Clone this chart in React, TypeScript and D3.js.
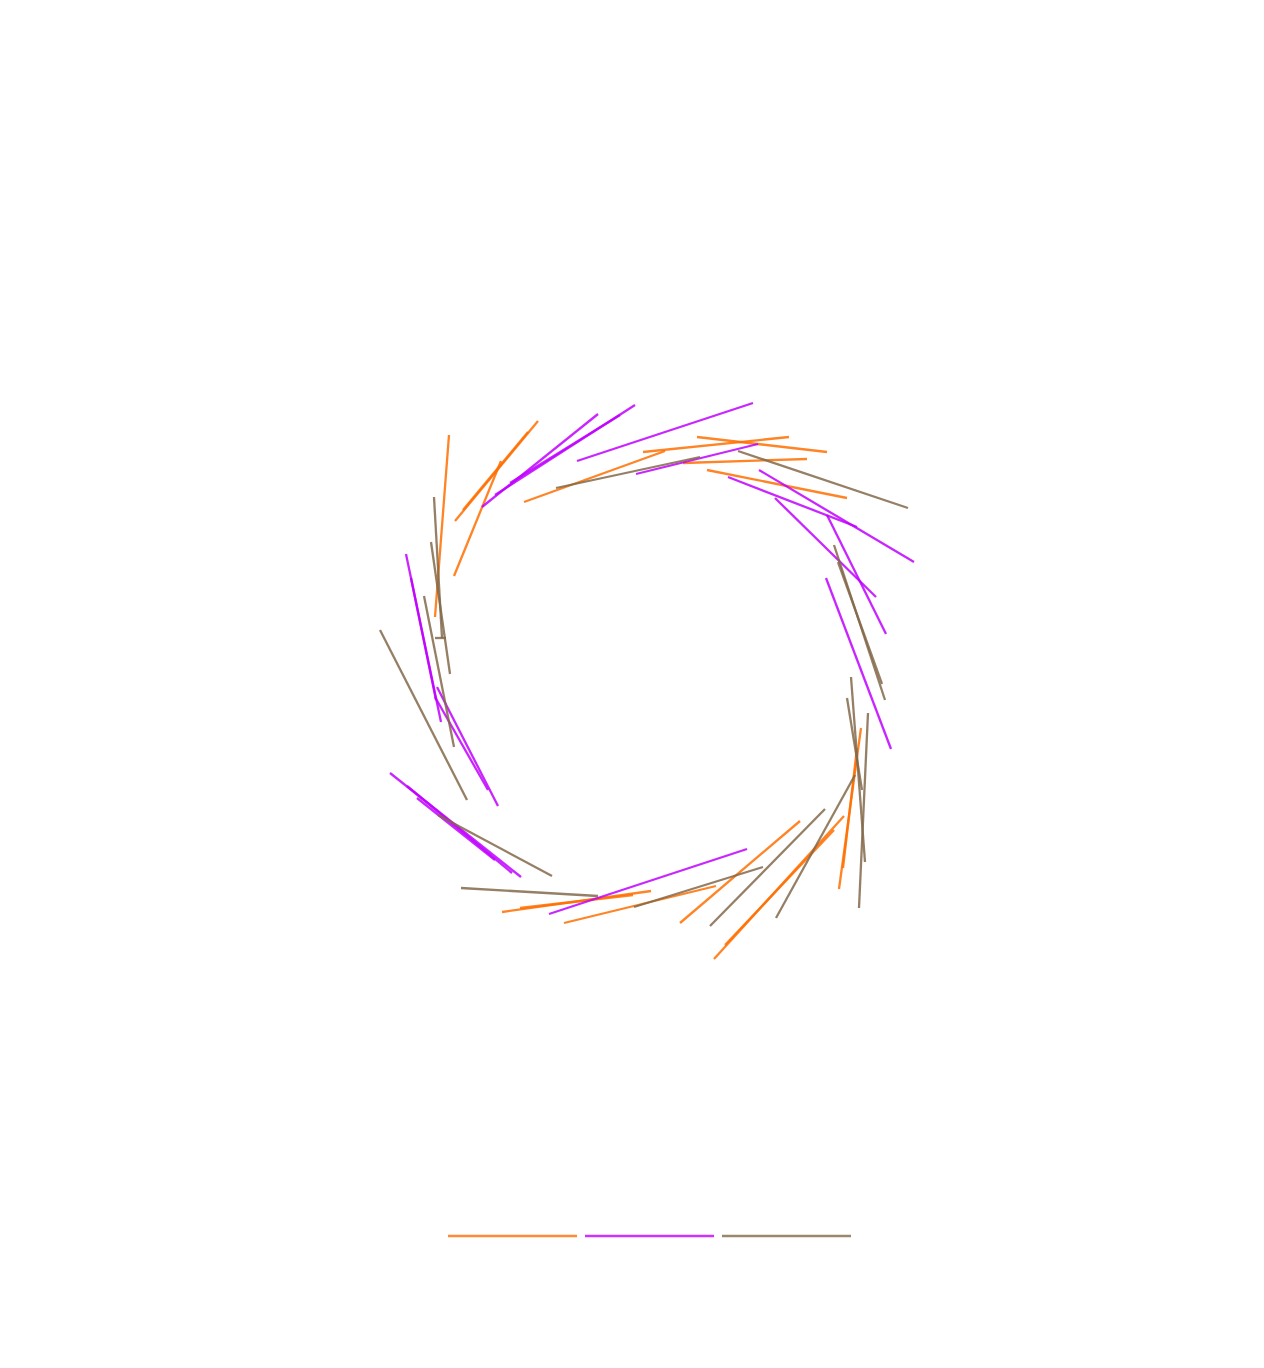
import * as d3 from 'd3'

// each segment: [x1, y1, x2, y2], center of the ring is 0,0, y points up
type Seg = [number, number, number, number]

const seriesNames = ['A', 'B', 'C']

const seriesA: Seg[] = [
  [-196, 245, -210, 63],
  [-107, 259, -190, 159],
  [-117, 248, -182, 170],
  [-144, 219, -191, 104],
  [-121, 178, 20, 229],
  [52, 243, 182, 228],
  [-2, 228, 144, 243],
  [38, 217, 162, 221],
  [62, 210, 202, 182],
  [35, -243, 155, -141],
  [69, -279, 199, -136],
  [80, -265, 189, -150],
  [194, -209, 216, -48],
  [198, -188, 212, -68],
  [-143, -232, 6, -211],
  [-125, -228, -12, -215],
  [-81, -243, 71, -206],
]

const seriesB: Seg[] = [
  [-47, 266, -163, 173],
  [-10, 275, -150, 185],
  [-25, 265, -135, 197],
  [-68, 219, 108, 277],
  [-9, 206, 113, 236],
  [83, 203, 212, 153],
  [114, 210, 269, 118],
  [130, 182, 231, 83],
  [182, 165, 241, 46],
  [181, 102, 246, -69],
  [-239, 126, -204, -42],
  [-234, 102, -209, -20],
  [-208, -7, -147, -126],
  [-210, -17, -157, -110],
  [-255, -93, -124, -197],
  [-238, -106, -133, -193],
  [-228, -118, -150, -180],
  [-96, -234, 102, -169],
]

const seriesC: Seg[] = [
  [-211, 183, -203, 42],
  [-210, 42, -199, 42],
  [-214, 138, -195, 6],
  [-221, 84, -191, -67],
  [-265, 50, -178, -120],
  [-89, 192, 55, 223],
  [93, 229, 263, 172],
  [189, 135, 240, -20],
  [193, 118, 237, -4],
  [206, 3, 220, -182],
  [202, -18, 217, -110],
  [223, -33, 214, -228],
  [210, -95, 131, -238],
  [180, -129, 65, -246],
  [-11, -227, 118, -187],
  [-184, -208, -47, -216],
  [-207, -135, -93, -196],
]

const colors = ['#ff6e00', '#bf00ff', '#82684a']

const width = 1248
const height = 1352

const App = () => {
  const x = d3.scaleLinear().domain([-300, 300]).range([337, 937])
  const y = d3.scaleLinear().domain([-300, 300]).range([972, 372])
  const color = d3.scaleOrdinal<string, string>().domain(seriesNames).range(colors)
  const legendX = d3.scaleBand().domain(seriesNames).range([440, 843]).paddingInner(0.058)

  const series = [seriesA, seriesB, seriesC]

  return (
    <svg width={width} height={height} style={{ display: 'block' }}>
      {series.map((segs, i) => (
        <g key={seriesNames[i]} stroke={color(seriesNames[i])} strokeOpacity={0.85} strokeWidth={2.3} fill="none">
          {segs.map((d, j) => (
            <line key={j} x1={x(d[0])} y1={y(d[1])} x2={x(d[2])} y2={y(d[3])} />
          ))}
        </g>
      ))}
      <g>
        {seriesNames.map(name => (
          <line
            key={name}
            x1={legendX(name)}
            x2={(legendX(name) ?? 0) + legendX.bandwidth()}
            y1={1228}
            y2={1228}
            stroke={color(name)}
            strokeOpacity={0.8}
            strokeWidth={2.3}
          />
        ))}
      </g>
    </svg>
  )
}

export default App
